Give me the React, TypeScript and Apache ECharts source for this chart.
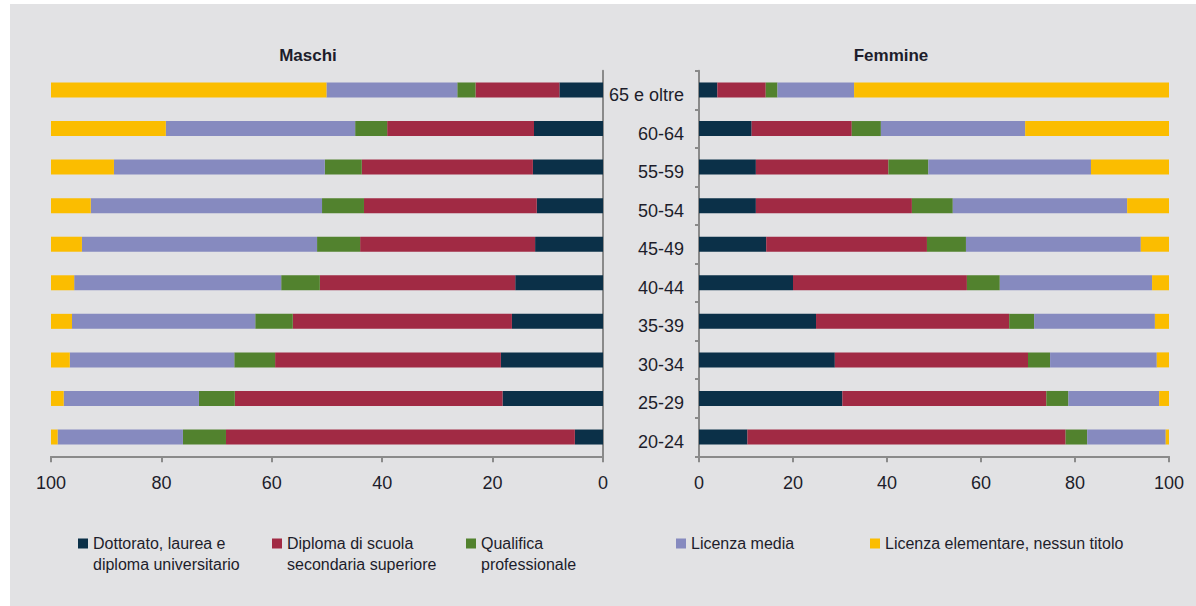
import React, { useEffect, useRef } from "react";
import * as echarts from "echarts";

const categories = ["20-24", "25-29", "30-34", "35-39", "40-44", "45-49", "50-54", "55-59", "60-64", "65 e oltre"];
const xTicks = [0, 20, 40, 60, 80, 100];

const seriesNames = [
  "Dottorato, laurea e diploma universitario",
  "Diploma di scuola secondaria superiore",
  "Qualifica professionale",
  "Licenza media",
  "Licenza elementare, nessun titolo",
];
const legendLabels = [
  "Dottorato, laurea e\ndiploma universitario",
  "Diploma di scuola\nsecondaria superiore",
  "Qualifica\nprofessionale",
  "Licenza media",
  "Licenza elementare, nessun titolo",
];

const maschiDott = [5.1, 18.2, 18.5, 16.5, 15.9, 12.3, 12.0, 12.7, 12.5, 7.9];
const maschiDipl = [63.2, 48.5, 40.9, 39.7, 35.4, 31.7, 31.3, 31.0, 26.6, 15.2];
const maschiQual = [7.8, 6.5, 7.4, 6.8, 7.0, 7.8, 7.6, 6.7, 5.8, 3.3];
const maschiMedia = [22.7, 24.5, 29.8, 33.2, 37.5, 42.6, 41.9, 38.2, 34.3, 23.7];
const maschiElem = [1.2, 2.3, 3.4, 3.8, 4.2, 5.6, 7.2, 11.4, 20.8, 49.9];

const femmineDott = [10.3, 30.5, 28.9, 24.9, 20.0, 14.3, 12.1, 12.1, 11.2, 3.9];
const femmineDipl = [67.7, 43.4, 41.1, 41.1, 37.0, 34.2, 33.2, 28.2, 21.3, 10.3];
const femmineQual = [4.6, 4.7, 4.7, 5.3, 7.0, 8.3, 8.7, 8.5, 6.2, 2.5];
const femmineMedia = [16.7, 19.3, 22.7, 25.7, 32.4, 37.2, 37.1, 34.6, 30.7, 16.3];
const femmineElem = [0.7, 2.1, 2.6, 3.0, 3.6, 6.0, 8.9, 16.6, 30.6, 67.0];

const colors = ["#0b3048", "#a12a44", "#52822e", "#868abf", "#fbbd00"];

const TEXT_FONT = "'Liberation Sans', Arial, sans-serif";
const TEXT_COLOR = "#1d1d2b";
const AXIS_COLOR = "#8a8a8a";

export default function App() {
  const ref = useRef<HTMLDivElement>(null);

  useEffect(() => {
    if (!ref.current) return;
    const chart = echarts.init(ref.current, undefined, { renderer: "svg" });

    const maschi = [maschiDott, maschiDipl, maschiQual, maschiMedia, maschiElem];
    const femmine = [femmineDott, femmineDipl, femmineQual, femmineMedia, femmineElem];

    const series: any[] = [];
    seriesNames.forEach((name, i) => {
      series.push({
        name,
        type: "bar",
        stack: "m",
        xAxisIndex: 0,
        yAxisIndex: 0,
        barWidth: 15,
        itemStyle: { color: colors[i] },
        data: maschi[i],
      });
    });
    seriesNames.forEach((name, i) => {
      series.push({
        name,
        type: "bar",
        stack: "f",
        xAxisIndex: 1,
        yAxisIndex: 1,
        barWidth: 15,
        itemStyle: { color: colors[i] },
        data: femmine[i],
      });
    });

    const legendLefts = [68, 262, 456, 666, 860];
    const legends = seriesNames.map((name, i) => {
      const twoLine = legendLabels[i].includes("\n");
      return {
        left: legendLefts[i],
        top: 529,
        padding: 0,
        orient: "horizontal",
        data: [name],
        itemWidth: 10,
        itemHeight: twoLine ? 31 : 10,
        icon: twoLine ? "path://M0,0L10,0L10,10L0,10Z M0,31L10,31L10,31.01L0,31.01Z" : "rect",
        formatter: () => legendLabels[i],
        selectedMode: false,
        textStyle: { fontFamily: TEXT_FONT, fontSize: 16, color: TEXT_COLOR, lineHeight: 21 },
      };
    });

    const axisLabelStyle = { fontFamily: TEXT_FONT, fontSize: 18, color: TEXT_COLOR };

    const option: any = {
      animation: false,
      backgroundColor: "#e2e2e4",
      graphic: [
        {
          type: "text",
          x: 298,
          y: 51,
          style: { text: "Maschi", textAlign: "center", textVerticalAlign: "middle", font: `bold 17px ${TEXT_FONT}`, fill: TEXT_COLOR },
        },
        {
          type: "text",
          x: 881,
          y: 51,
          style: { text: "Femmine", textAlign: "center", textVerticalAlign: "middle", font: `bold 17px ${TEXT_FONT}`, fill: TEXT_COLOR },
        },
      ],
      legend: legends,
      grid: [
        { left: 41, width: 552, top: 66.7, height: 385.6 },
        { left: 689, width: 470, top: 66.7, height: 385.6 },
      ],
      xAxis: [
        {
          type: "value",
          gridIndex: 0,
          inverse: true,
          min: xTicks[0],
          max: xTicks[xTicks.length - 1],
          interval: 20,
          splitLine: { show: false },
          axisLine: { show: true, lineStyle: { color: AXIS_COLOR, width: 2 } },
          axisTick: { show: true, length: 6, lineStyle: { color: AXIS_COLOR, width: 2 } },
          axisLabel: { ...axisLabelStyle, margin: 18 },
        },
        {
          type: "value",
          gridIndex: 1,
          min: xTicks[0],
          max: xTicks[xTicks.length - 1],
          interval: 20,
          splitLine: { show: false },
          axisLine: { show: true, lineStyle: { color: AXIS_COLOR, width: 2 } },
          axisTick: { show: true, length: 6, lineStyle: { color: AXIS_COLOR, width: 2 } },
          axisLabel: { ...axisLabelStyle, margin: 18 },
        },
      ],
      yAxis: [
        {
          type: "category",
          gridIndex: 0,
          position: "right",
          data: categories,
          axisLine: { show: true, onZero: false, lineStyle: { color: AXIS_COLOR, width: 2 } },
          axisTick: { show: false },
          axisLabel: { show: false },
        },
        {
          type: "category",
          gridIndex: 1,
          position: "left",
          data: categories,
          axisLine: { show: true, onZero: false, lineStyle: { color: AXIS_COLOR, width: 2 } },
          axisTick: { show: true, length: 4, lineStyle: { color: AXIS_COLOR, width: 2 } },
          axisLabel: { ...axisLabelStyle, margin: 15, verticalAlign: "top", lineHeight: 10 },
        },
      ],
      series,
    };

    chart.setOption(option);
    return () => chart.dispose();
  }, []);

  return (
    <div style={{ position: "fixed", left: 0, top: 0, width: 1196, height: 606, background: "#ffffff" }}>
      <div ref={ref} style={{ position: "absolute", left: 10, top: 4, width: 1186, height: 602 }} />
    </div>
  );
}
